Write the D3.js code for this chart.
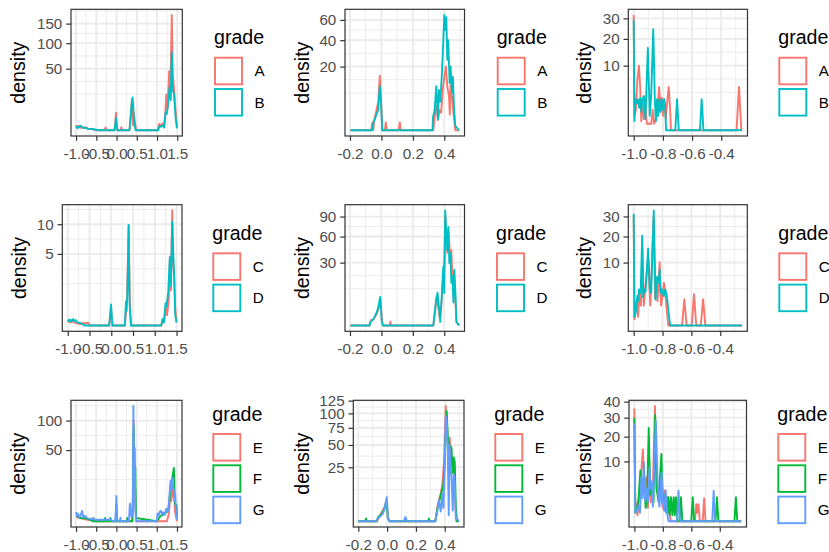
<!DOCTYPE html>
<html>
<head>
<meta charset="utf-8">
<script src="https://cdn.jsdelivr.net/npm/d3@7"></script>
<style>
  body { margin: 0; background: #fff; }
  svg { display: block; }
  text { font-family: "Liberation Sans", Arial, Helvetica, sans-serif; }
</style>
</head>
<body>
<svg id="chart" width="829" height="552"></svg>
<script>
// ---- grades per row ----
const gradesRow1 = ["A", "B"];
const gradesRow2 = ["C", "D"];
const gradesRow3 = ["E", "F", "G"];

// ---- tick labels ----
const xTicksWide = [-1.0, -0.5, 0.0, 0.5, 1.0, 1.5];
const xTicksMid = [-0.2, 0.0, 0.2, 0.4];
const xTicksNeg = [-1.0, -0.8, -0.6, -0.4];
const yTicks1 = [50, 100, 150];
const yTicks2 = [20, 40, 60];
const yTicks3 = [10, 20, 30];
const yTicks4 = [5, 10];
const yTicks5 = [30, 60, 90];
const yTicks6 = [10, 20, 30];
const yTicks7 = [50, 100];
const yTicks8 = [25, 50, 75, 100, 125];
const yTicks9 = [10, 20, 30, 40];

// ---- density curves: [x, density] ----
const p1A = [[-1.0,0.35],[-0.98,0.15],[-0.95,0.25],[-0.9,0.08],[-0.85,0.15],[-0.8,0.05],[-0.75,0.12],[-0.7,0.03],[-0.6,0.02],[-0.5,0],[-0.3,0],[-0.27,0.1],[-0.24,0],[-0.05,0],[-0.03,0.8],[-0.015,4.1],[0.0,1.0],[0.02,0],[0.1,0],[0.12,0.12],[0.14,0],[0.32,0],[0.35,2.0],[0.38,12.5],[0.40,2.5],[0.41,0.3],[0.43,4],[0.46,0.5],[0.49,0],[1.02,0],[1.05,0.5],[1.1,0.3],[1.14,0.6],[1.17,0.1],[1.2,2.5],[1.23,17],[1.26,6],[1.3,46],[1.33,22],[1.365,175],[1.39,40],[1.42,24],[1.45,8],[1.48,1.0],[1.5,0.3]];
const p1B = [[-1.0,0.2],[-0.97,0.05],[-0.93,0.18],[-0.89,0.28],[-0.85,0.08],[-0.8,0.1],[-0.72,0.03],[-0.6,0.02],[-0.45,0],[-0.05,0],[-0.03,0.4],[-0.015,2.1],[0.0,0.5],[0.02,0],[0.32,0],[0.35,3],[0.38,11],[0.395,14.1],[0.41,9],[0.43,1.5],[0.47,0],[1.03,0],[1.06,0.25],[1.1,0.15],[1.14,0.3],[1.18,0.1],[1.21,4.1],[1.24,3.5],[1.27,7.8],[1.31,24],[1.34,12],[1.365,81],[1.385,22],[1.42,17],[1.46,2],[1.49,0.1],[1.5,0.05]];

const p2A = [[-0.197,0],[-0.065,0],[-0.058,0.3],[-0.052,0],[-0.045,0.5],[-0.035,1.5],[-0.02,4],[-0.01,14.7],[0.0,2],[0.006,0],[0.022,0],[0.028,0.3],[0.034,0],[0.11,0],[0.117,0.3],[0.123,0],[0.33,0],[0.34,1],[0.35,3],[0.36,0.5],[0.37,2],[0.38,1.5],[0.39,8],[0.40,14],[0.41,20],[0.42,9],[0.43,6],[0.435,1.2],[0.44,10],[0.45,5],[0.46,1],[0.47,0],[0.494,0]];
const p2B = [[-0.197,0],[-0.06,0],[-0.05,0.3],[-0.035,1.0],[-0.02,2.1],[-0.01,9.6],[-0.002,4],[0.005,0],[0.325,0],[0.328,0.8],[0.339,2.1],[0.349,9.6],[0.36,0.6],[0.366,8],[0.375,4],[0.385,16],[0.392,34.6],[0.400,65.4],[0.406,49.6],[0.413,63],[0.419,24.5],[0.425,40],[0.434,11],[0.440,20],[0.449,7],[0.455,14],[0.461,3],[0.470,0.1],[0.494,0]];

const p3A = [[-1.0,31.8],[-0.995,0.5],[-0.985,1],[-0.975,6],[-0.964,10],[-0.955,4],[-0.948,0.2],[-0.94,2],[-0.93,0.3],[-0.92,1.5],[-0.91,0.1],[-0.88,0.1],[-0.87,1],[-0.86,0.1],[-0.84,0.5],[-0.826,4.5],[-0.815,1],[-0.808,2.5],[-0.8,0.5],[-0.79,2.3],[-0.78,0.3],[-0.77,2],[-0.76,4.5],[-0.75,1],[-0.745,0],[-0.295,0],[-0.278,4.5],[-0.262,0],[-0.257,0]];
const p3B = [[-1.0,29.0],[-0.995,0.2],[-0.988,2.3],[-0.98,1.8],[-0.972,2.3],[-0.963,1.2],[-0.955,2.5],[-0.948,0.8],[-0.94,2.3],[-0.93,2.8],[-0.92,0.3],[-0.903,16.2],[-0.89,0.5],[-0.88,3],[-0.866,24.5],[-0.855,2],[-0.848,0.2],[-0.84,2.3],[-0.832,0.5],[-0.824,2.3],[-0.816,0.8],[-0.808,2.3],[-0.8,1],[-0.792,2.3],[-0.785,1.5],[-0.778,0],[-0.715,0],[-0.703,2.3],[-0.691,0],[-0.546,0],[-0.534,2.3],[-0.522,0],[-0.257,0]];

const p4C = [[-1,0.02],[-0.95,0.01],[-0.9,0.015],[-0.8,0.005],[-0.7,0.002],[-0.64,0.008],[-0.6,0.004],[-0.53,0.008],[-0.5,0],[-0.05,0],[-0.02,0.15],[-0.006,0.4],[0.01,0.05],[0.03,0],[0.31,0],[0.338,0.15],[0.36,0.6],[0.40,9.7],[0.43,0.3],[0.46,0],[1.15,0],[1.18,0.04],[1.21,0.01],[1.248,0.3],[1.28,0.1],[1.32,0.6],[1.347,4.6],[1.37,1.2],[1.40,12.9],[1.424,4],[1.447,2.2],[1.47,0.3],[1.5,0.01]];
const p4D = [[-1,0.035],[-0.98,0.02],[-0.95,0.035],[-0.92,0.015],[-0.88,0.04],[-0.85,0.02],[-0.82,0.03],[-0.78,0.01],[-0.7,0.005],[-0.6,0],[-0.05,0],[-0.025,0.1],[-0.006,0.43],[0.015,0.05],[0.03,0],[0.31,0],[0.338,0.56],[0.35,0.2],[0.37,1],[0.40,9.85],[0.42,0.5],[0.45,0],[1.15,0],[1.18,0.04],[1.21,0.01],[1.248,0.49],[1.27,0.35],[1.309,1.1],[1.346,4.5],[1.37,1.5],[1.40,10.5],[1.424,5],[1.445,2.4],[1.47,0.1],[1.5,0.01]];

const p5C = [[-0.197,0],[-0.075,0],[-0.068,0.2],[-0.05,0.3],[-0.03,1.0],[-0.015,2.5],[-0.006,5.5],[0.004,0.1],[0.01,0],[0.052,0],[0.057,0.12],[0.062,0],[0.33,0],[0.34,1],[0.35,6],[0.36,3],[0.37,0.5],[0.383,4],[0.394,20],[0.40,27],[0.406,90],[0.413,60],[0.419,40],[0.426,70],[0.432,51],[0.439,30],[0.445,43],[0.452,15],[0.46,22],[0.466,10],[0.472,3],[0.478,0.1],[0.494,0]];
const p5D = [[-0.197,0],[-0.075,0],[-0.071,0.08],[-0.05,0.33],[-0.03,1.3],[-0.02,2.5],[-0.008,6.2],[0.002,0.2],[0.01,0],[0.33,0],[0.336,0.6],[0.346,4],[0.357,8.2],[0.368,1.8],[0.374,0.1],[0.383,5.5],[0.394,26.5],[0.40,8],[0.406,100.4],[0.413,64],[0.419,43],[0.426,73.7],[0.432,29.6],[0.439,39.6],[0.445,13.8],[0.452,18.4],[0.458,4],[0.464,23.7],[0.471,8],[0.477,0.1],[0.494,0]];

const p6C = [[-1.0,30],[-0.995,0.1],[-0.979,1.74],[-0.97,0.2],[-0.96,2.5],[-0.95,1],[-0.94,15],[-0.93,1],[-0.9,12],[-0.885,1],[-0.862,30],[-0.852,2],[-0.843,4.6],[-0.835,1.5],[-0.82,10.1],[-0.81,1],[-0.79,4.6],[-0.78,2.4],[-0.77,0.5],[-0.76,0],[-0.665,0],[-0.649,1.74],[-0.633,0],[-0.598,0],[-0.582,2.46],[-0.566,0],[-0.535,0],[-0.519,1.74],[-0.503,0],[-0.25,0]];
const p6D = [[-1.0,31.5],[-0.995,0.2],[-0.985,0.5],[-0.975,2.2],[-0.969,1.5],[-0.963,3.3],[-0.952,2.7],[-0.941,20.3],[-0.935,2.0],[-0.929,3.3],[-0.918,2.9],[-0.90,15],[-0.888,3.3],[-0.879,2.7],[-0.861,33.4],[-0.849,1.7],[-0.838,6.0],[-0.827,4.6],[-0.82,7.9],[-0.815,2.7],[-0.804,3.3],[-0.792,2.2],[-0.781,3.3],[-0.77,2.2],[-0.758,0.4],[-0.747,0],[-0.25,0]];

const p7E = [[-1,0.2],[-0.9,0.1],[-0.8,0.05],[-0.5,0],[0.38,0],[0.393,0.8],[0.41,5],[0.426,100],[0.44,40],[0.455,30],[0.47,3],[0.49,0],[1.25,0],[1.3,0.5],[1.339,8],[1.36,4],[1.38,10],[1.4,6],[1.425,12],[1.45,1],[1.48,0.2],[1.5,0]];
const p7F = [[-1,0.3],[-0.95,0.2],[-0.9,0.1],[-0.8,0.1],[-0.7,0.05],[-0.58,0],[-0.57,0.1],[-0.56,0],[-0.29,0],[-0.279,0.1],[-0.265,0],[-0.16,0],[-0.15,0.1],[-0.14,0],[-0.02,0],[0.0,3],[0.02,0],[0.26,0],[0.27,0.1],[0.28,0],[0.4,0],[0.426,90],[0.44,30],[0.468,28.6],[0.485,0.1],[1.0,0],[1.1,0.3],[1.2,0.5],[1.3,2],[1.35,14],[1.39,20],[1.425,28],[1.45,3],[1.49,2.5],[1.5,0.2]];
const p7G = [[-1,0.85],[-0.98,0.3],[-0.95,0.57],[-0.92,0.15],[-0.89,0.3],[-0.85,1.04],[-0.82,0.15],[-0.78,0.3],[-0.72,0.08],[-0.6,0.05],[-0.5,0.02],[-0.2,0.02],[-0.14,0.05],[-0.1,0],[-0.03,0],[-0.01,2],[0.0,6.3],[0.01,0.3],[0.03,0],[0.09,0],[0.1,0.12],[0.11,0],[0.31,0],[0.334,3.0],[0.36,0.3],[0.39,0.2],[0.41,2],[0.42,131],[0.44,20],[0.455,53],[0.468,1.5],[0.485,0.1],[0.5,0],[1.0,0],[1.02,0.6],[1.05,0.3],[1.07,0.85],[1.1,1.1],[1.13,0.5],[1.16,0.8],[1.2,0.4],[1.23,1.5],[1.27,0.8],[1.3,3],[1.339,16],[1.36,10],[1.38,18.8],[1.4,12],[1.425,9],[1.44,4],[1.457,7.2],[1.475,1],[1.49,0.3],[1.5,0.02]];

const p8E = [[-0.2,0],[-0.07,0],[-0.05,0.3],[-0.03,1.0],[-0.015,2],[-0.004,4],[0.005,0.1],[0.015,0],[0.335,0],[0.35,2],[0.36,4],[0.372,6.5],[0.384,12],[0.395,30],[0.407,114],[0.416,80],[0.425,40],[0.435,60],[0.445,30],[0.455,25],[0.465,20],[0.472,5],[0.48,0],[0.499,0]];
const p8F = [[-0.2,0],[-0.152,0],[-0.146,0.06],[-0.14,0],[-0.073,0],[-0.067,0.06],[-0.06,0.2],[-0.04,0.4],[-0.02,1.2],[-0.005,3.5],[0.005,0.1],[0.015,0],[0.284,0],[0.29,0.06],[0.296,0],[0.335,0],[0.35,1.5],[0.365,4],[0.38,8],[0.39,10],[0.40,30],[0.414,104],[0.422,60],[0.43,50],[0.447,46.8],[0.455,20],[0.463,35],[0.47,30],[0.477,2],[0.485,0],[0.499,0]];
const p8G = [[-0.2,0],[-0.08,0],[-0.06,0.1],[-0.04,0.3],[-0.03,0.5],[-0.02,1.0],[-0.012,2.5],[-0.002,5.0],[0.006,0.1],[0.015,0],[0.115,0],[0.127,0.16],[0.139,0],[0.335,0],[0.349,1],[0.36,3.7],[0.372,0.8],[0.384,6.5],[0.391,1.5],[0.40,25],[0.407,95],[0.414,86],[0.421,46.8],[0.428,0.3],[0.433,50],[0.44,25],[0.447,17],[0.456,1.0],[0.463,19.2],[0.47,12],[0.477,0.1],[0.499,0]];

const p9E = [[-1,35.5],[-0.993,0.3],[-0.986,0.86],[-0.978,0.1],[-0.965,2],[-0.955,5],[-0.94,14.4],[-0.93,3],[-0.917,5.4],[-0.905,0.5],[-0.893,6],[-0.885,1],[-0.87,3],[-0.855,37.1],[-0.845,3],[-0.83,1.5],[-0.815,2],[-0.80,0.5],[-0.789,2.6],[-0.778,0.3],[-0.76,1],[-0.745,0],[-0.575,0],[-0.565,0.82],[-0.558,0.2],[-0.55,0.82],[-0.54,0],[-0.52,0],[-0.51,1.5],[-0.5,0],[-0.25,0]];
const p9F = [[-1,30],[-0.993,0.2],[-0.98,0.5],[-0.97,1.5],[-0.958,7.2],[-0.948,3],[-0.935,5],[-0.92,0.5],[-0.91,1.6],[-0.899,24.3],[-0.888,2],[-0.875,3],[-0.865,1],[-0.854,31.6],[-0.843,3],[-0.83,1],[-0.81,12.7],[-0.8,1],[-0.785,2],[-0.776,0.2],[-0.771,1.6],[-0.765,0.2],[-0.761,1.6],[-0.752,0.1],[-0.743,1.6],[-0.733,0.1],[-0.724,1.6],[-0.716,0.1],[-0.708,1.6],[-0.698,0],[-0.683,0],[-0.673,1.6],[-0.663,0],[-0.6,0],[-0.59,1.6],[-0.58,0],[-0.43,0],[-0.42,1.6],[-0.41,0],[-0.297,0],[-0.287,1.6],[-0.277,0],[-0.25,0]];
const p9G = [[-1,26.9],[-0.993,0.2],[-0.98,0.3],[-0.97,0.7],[-0.96,0.2],[-0.951,5.4],[-0.942,1.5],[-0.933,9.6],[-0.924,1.1],[-0.915,3],[-0.905,1],[-0.893,8.1],[-0.886,3],[-0.877,4.4],[-0.87,0.6],[-0.849,28.2],[-0.836,3.7],[-0.824,0.6],[-0.808,6.6],[-0.80,1.2],[-0.79,0.3],[-0.78,2.7],[-0.77,0.2],[-0.76,0],[-0.7,0],[-0.69,2.6],[-0.68,0],[-0.453,0],[-0.443,2.6],[-0.433,0],[-0.25,0]];

// ---- colours (ggplot hue palette) ----
const hue2 = ["#F8766D", "#00BFC4"];
const hue3 = ["#F8766D", "#00BA38", "#619CFF"];

// ---- panels: data + placement ----
const panels = [
  { curves: [p1A, p1B], grades: gradesRow1, colors: hue2, xTicks: xTicksWide, yTicks: yTicks1,
    L: 71, R: 182.3, T: 9.3, B: 136, titleX: 24.6, legX: 214, legTop: 56.7, legTitleY: 44.2 },
  { curves: [p2A, p2B], grades: gradesRow1, colors: hue2, xTicks: xTicksMid, yTicks: yTicks2,
    L: 345, R: 464.5, T: 9.3, B: 136, titleX: 309.3, legX: 496.7, legTop: 56.7, legTitleY: 44.2 },
  { curves: [p3A, p3B], grades: gradesRow1, colors: hue2, xTicks: xTicksNeg, yTicks: yTicks3,
    L: 628.3, R: 747.5, T: 9.3, B: 136, titleX: 591, legX: 778.3, legTop: 56.7, legTitleY: 44.2 },
  { curves: [p4C, p4D], grades: gradesRow2, colors: hue2, xTicks: xTicksWide, yTicks: yTicks4,
    L: 62.3, R: 182, T: 204.7, B: 331.3, titleX: 25.6, legX: 212.3, legTop: 252.3, legTitleY: 239.8 },
  { curves: [p5C, p5D], grades: gradesRow2, colors: hue2, xTicks: xTicksMid, yTicks: yTicks5,
    L: 345, R: 464.5, T: 204.7, B: 331.3, titleX: 309.3, legX: 496, legTop: 252.3, legTitleY: 239.8 },
  { curves: [p6C, p6D], grades: gradesRow2, colors: hue2, xTicks: xTicksNeg, yTicks: yTicks6,
    L: 628.3, R: 747.3, T: 204.7, B: 331.3, titleX: 591, legX: 778.3, legTop: 252.3, legTitleY: 239.8 },
  { curves: [p7E, p7F, p7G], grades: gradesRow3, colors: hue3, xTicks: xTicksWide, yTicks: yTicks7,
    L: 71, R: 182, T: 400.3, B: 527, titleX: 25.3, legX: 212.3, legTop: 433, legTitleY: 420.5 },
  { curves: [p8E, p8F, p8G], grades: gradesRow3, colors: hue3, xTicks: xTicksMid, yTicks: yTicks8,
    L: 353.3, R: 464, T: 400.3, B: 527, titleX: 309.3, legX: 494.3, legTop: 433, legTitleY: 420.5 },
  { curves: [p9E, p9F, p9G], grades: gradesRow3, colors: hue3, xTicks: xTicksNeg, yTicks: yTicks9,
    L: 629, R: 746.5, T: 400.3, B: 527, titleX: 591, legX: 777.3, legTop: 433, legTitleY: 420.5 }
];

// ---- style constants ----
const FONT_AXIS = 15.2, FONT_TITLE = 19.6;
const TICK_LEN = 4.8, LINE_W = 1.9;
const GRID = "#EBEBEB", DARK = "#333333", AXIS_TEXT = "#4D4D4D";
const KEY_W = 27, KEY_H = 26.6, KEY_STEP = 31.3;

const svg = d3.select("#chart");
svg.append("rect").attr("width", 829).attr("height", 552).attr("fill", "#fff");

// regular minor breaks: each major, the midpoints, and one extra step on either side
function minorBreaks(majors, lo, hi) {
  const b = majors.slice();
  if (b.length < 2) return [];
  const bd = b[1] - b[0];
  if (lo < b[0]) b.unshift(b[0] - bd);
  if (hi > b[b.length - 1]) b.push(b[b.length - 1] + bd);
  const out = [];
  for (let i = 0; i < b.length - 1; i++) out.push(b[i], (b[i] + b[i + 1]) / 2);
  out.push(b[b.length - 1]);
  return out.filter(v => v >= lo && v <= hi);
}

panels.forEach((p, pi) => {
  const g = svg.append("g");

  // x scale: data range with 5% expansion
  const allPts = p.curves.flat();
  const [xmin, xmax] = d3.extent(allPts, d => d[0]);
  const xpad = (xmax - xmin) * 0.05;
  const x = d3.scaleLinear().domain([xmin - xpad, xmax + xpad]).range([p.L, p.R]);

  // y scale: square-root, expansion of 5% applied in root space
  const ymax = d3.max(allPts, d => d[1]);
  const h = p.B - p.T, pad = h * 0.05 / 1.1;
  const y = d3.scaleSqrt().domain([0, ymax]).range([p.B - pad, p.T + pad]);
  const rootMax = Math.sqrt(ymax);
  const rootLo = -0.05 * rootMax, rootHi = 1.05 * rootMax;

  g.append("rect").attr("x", p.L).attr("y", p.T).attr("width", p.R - p.L).attr("height", p.B - p.T)
    .attr("fill", "#fff");

  // grid lines
  const [dx0, dx1] = x.domain();
  const xMajors = p.xTicks.filter(v => v >= dx0 && v <= dx1);
  const xMinors = minorBreaks(xMajors, dx0, dx1);
  const yMajors = p.yTicks.filter(v => Math.sqrt(v) <= rootHi);
  const yMinorsRoot = minorBreaks(yMajors.map(Math.sqrt), rootLo, rootHi);

  const grid = g.append("g");
  grid.selectAll(".xmin").data(xMinors).join("line")
    .attr("x1", d => x(d)).attr("x2", d => x(d)).attr("y1", p.T).attr("y2", p.B)
    .attr("stroke", GRID).attr("stroke-width", 0.95);
  grid.selectAll(".ymin").data(yMinorsRoot.filter(d => d >= 0)).join("line")
    .attr("x1", p.L).attr("x2", p.R).attr("y1", d => y(d * d)).attr("y2", d => y(d * d))
    .attr("stroke", GRID).attr("stroke-width", 0.95);
  grid.selectAll(".xmaj").data(xMajors).join("line")
    .attr("x1", d => x(d)).attr("x2", d => x(d)).attr("y1", p.T).attr("y2", p.B)
    .attr("stroke", GRID).attr("stroke-width", LINE_W);
  grid.selectAll(".ymaj").data(yMajors).join("line")
    .attr("x1", p.L).attr("x2", p.R).attr("y1", d => y(d)).attr("y2", d => y(d))
    .attr("stroke", GRID).attr("stroke-width", LINE_W);

  // density lines
  const clipId = "clip" + pi;
  svg.append("clipPath").attr("id", clipId).append("rect")
    .attr("x", p.L).attr("y", p.T).attr("width", p.R - p.L).attr("height", p.B - p.T);
  const line = d3.line().x(d => x(d[0])).y(d => y(d[1]));
  g.append("g").attr("clip-path", `url(#${clipId})`)
    .selectAll("path").data(p.curves).join("path")
    .attr("d", line)
    .attr("fill", "none")
    .attr("stroke", (d, i) => p.colors[i])
    .attr("stroke-width", LINE_W)
    .attr("stroke-linejoin", "round")
    .attr("stroke-linecap", "butt");

  // panel border
  g.append("rect").attr("x", p.L).attr("y", p.T).attr("width", p.R - p.L).attr("height", p.B - p.T)
    .attr("fill", "none").attr("stroke", DARK).attr("stroke-width", 1.2);

  // axes
  const xAxis = d3.axisBottom(x).tickValues(xMajors).tickSize(TICK_LEN).tickSizeOuter(0)
    .tickPadding(7).tickFormat(d => d.toFixed(1));
  const yAxis = d3.axisLeft(y).tickValues(yMajors).tickSize(TICK_LEN).tickSizeOuter(0)
    .tickPadding(3.9).tickFormat(d3.format("d"));

  const styleAxis = sel => {
    sel.select(".domain").remove();
    sel.selectAll(".tick line").attr("stroke", DARK).attr("stroke-width", 1.2);
    sel.selectAll(".tick text").attr("fill", AXIS_TEXT).style("font-size", FONT_AXIS + "px")
      .style("font-family", '"Liberation Sans", Arial, Helvetica, sans-serif');
  };
  g.append("g").attr("transform", `translate(0,${p.B})`).call(xAxis).call(styleAxis);
  g.append("g").attr("transform", `translate(${p.L},0)`).call(yAxis).call(styleAxis);

  // y-axis title
  g.append("text")
    .attr("transform", `translate(${p.titleX},${(p.T + p.B) / 2}) rotate(-90)`)
    .attr("text-anchor", "middle")
    .style("font-size", FONT_TITLE + "px").attr("fill", "#000")
    .text("density");

  // legend
  const leg = g.append("g");
  leg.append("text").attr("x", p.legX).attr("y", p.legTitleY)
    .style("font-size", FONT_TITLE + "px").attr("fill", "#000").text("grade");
  p.grades.forEach((gr, i) => {
    const top = p.legTop + i * KEY_STEP;
    leg.append("rect")
      .attr("x", p.legX + 1).attr("y", top + 1).attr("width", KEY_W).attr("height", KEY_H)
      .attr("fill", "#fff").attr("stroke", p.colors[i]).attr("stroke-width", LINE_W);
    leg.append("text")
      .attr("x", p.legX + 40.5).attr("y", top + 1 + KEY_H / 2).attr("dy", "0.35em")
      .style("font-size", FONT_AXIS + "px").attr("fill", "#000").text(gr);
  });
});
</script>
</body>
</html>
